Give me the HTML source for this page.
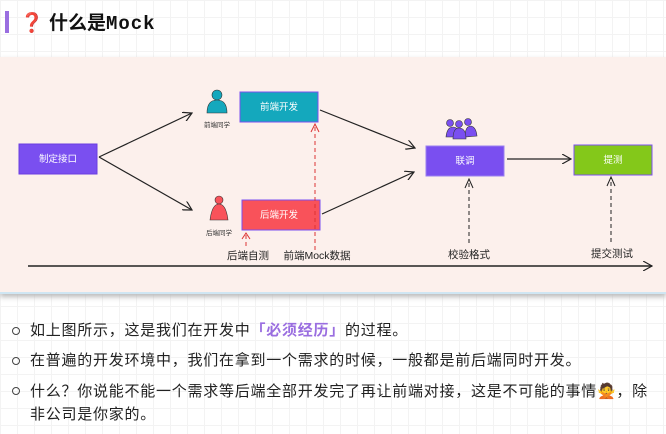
<!DOCTYPE html>
<html><head><meta charset="utf-8"><style>
body{margin:0;width:666px;height:434px;overflow:hidden;background:#fff;
background-image:linear-gradient(#f3f3f3 1px,transparent 1px),linear-gradient(90deg,#f3f3f3 1px,transparent 1px);background-size:17px 17px;
font-family:"Liberation Sans","Noto Sans CJK SC",sans-serif;position:relative}
.h{position:absolute;left:5px;top:11px;width:4px;height:22px;background:#9a6ee0}
.t{position:absolute;left:20px;top:8px;font-size:19px;font-weight:bold;color:#111}
.t .m{font-family:"Liberation Mono",monospace;letter-spacing:1px}
.dg{position:absolute;left:0;top:57px;width:666px;height:235px;background:#fcf0ec;border-bottom:2px solid #cfe6f3;box-shadow:0 3px 5px #bbb}
ul{position:absolute;left:0;top:316px;margin:0;padding:0;list-style:none;font-size:15px;letter-spacing:0.75px;color:#222}
li{position:relative;padding-left:30px;line-height:30px;width:632px}
li::before{content:"";position:absolute;left:12px;top:11px;width:6px;height:6px;border:1.3px solid #444;border-radius:50%}
.p{color:#9a6ee0;font-weight:bold}
</style></head><body>
<div class="h"></div>
<div class="t"><span style="color:#e04020">❓</span> 什么是<span class="m">Mock</span></div>
<div class="dg"></div>
<svg width="666" height="434" style="position:absolute;left:0;top:0" font-family="Liberation Sans,Noto Sans CJK SC,sans-serif">
<defs><marker id="a" markerWidth="10" markerHeight="10" refX="9" refY="5" orient="auto" markerUnits="userSpaceOnUse"><path d="M0,0L9,5L0,10" fill="none" stroke="#222" stroke-width="1.2"/></marker></defs>
<g fill="#fff" font-size="9.5" text-anchor="middle">
<rect x="19" y="144" width="78" height="30" fill="#7a4ff0" stroke="#6a3ee0"/><text x="58" y="162">制定接口</text>
<rect x="240" y="92" width="78" height="30" fill="#14a8bd" stroke="#7a4ff0"/><text x="279" y="110">前端开发</text>
<rect x="242" y="200" width="78" height="30" fill="#f9525a" stroke="#7a4ff0"/><text x="279" y="218">后端开发</text>
<rect x="426" y="146" width="78" height="30" fill="#7a4ff0" stroke="#9a7ff0"/><text x="465" y="164">联调</text>
<rect x="574" y="145" width="78" height="30" fill="#84c81a" stroke="#7a4ff0"/><text x="613" y="163">提测</text>
</g>
<g stroke="#222" stroke-width="1.2" fill="none" marker-end="url(#a)">
<path d="M99,157L192,113"/><path d="M99,157L192,210"/><path d="M320,110L415,148"/><path d="M322,214L414,172"/><path d="M507,159L571,159"/>
<path d="M28,266L652,266" stroke-width="1.6"/>
</g>
<g stroke="#d33" stroke-width="1" stroke-dasharray="4,3" fill="none">
<path d="M315,250L315,126"/><path d="M246,246L246,234"/></g>
<path d="M311,132L315,124L319,132M242,239L246,233L250,239" stroke="#d33" fill="none"/>
<g stroke="#222" stroke-width="1" stroke-dasharray="4,3" fill="none"><path d="M469,243L469,180"/><path d="M611,242L611,178"/></g>
<path d="M465,188L469,179L473,188M607,186L611,177L615,186" stroke="#222" fill="none"/>
<g fill="#14a8bd" stroke="#333" stroke-width=".6"><circle cx="217" cy="95" r="5"/><path d="M207,113Q207,100 217,100Q227,100 227,113Z"/></g>
<g fill="#f9525a" stroke="#333" stroke-width=".6"><circle cx="219" cy="200" r="4"/><path d="M210,220Q212,204 219,204Q226,204 228,220Z"/></g>
<g fill="#7a4ff0" stroke="#333" stroke-width=".6"><circle cx="450" cy="123" r="3.5"/><circle cx="468" cy="122" r="3.5"/><path d="M446,137Q447,127 453,127Q459,127 459,137Z"/><path d="M465,137Q465,126 471,126Q476,127 477,136Z"/><circle cx="459" cy="124" r="3.5"/><path d="M453,139Q453,128 459,128Q466,128 466,139Z"/></g>
<g font-size="6.5" fill="#333" text-anchor="middle"><text x="217" y="127">前端同学</text><text x="219" y="235">后端同学</text></g>
<g font-size="10.5" fill="#222" text-anchor="middle"><text x="248" y="259">后端自测</text><text x="317" y="259">前端Mock数据</text><text x="469" y="258">校验格式</text><text x="612" y="257">提交测试</text></g>
</svg>
<ul>
<li>如上图所示，这是我们在开发中<span class="p">「必须经历」</span>的过程。</li>
<li>在普遍的开发环境中，我们在拿到一个需求的时候，一般都是前后端同时开发。</li>
<li style="line-height:23px;padding-top:4px">什么？你说能不能一个需求等后端全部开发完了再让前端对接，这是不可能的事情🙅，除非公司是你家的。</li>
</ul>
</body></html>
